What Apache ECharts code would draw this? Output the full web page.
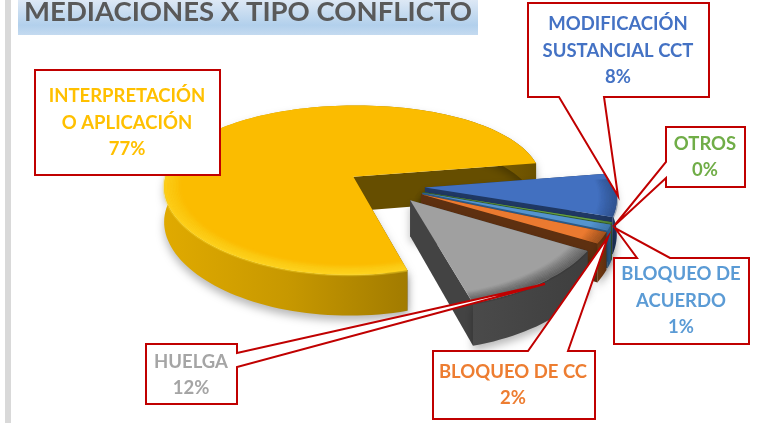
<!DOCTYPE html>
<html>
<head>
<meta charset="utf-8">
<style>html,body{margin:0;padding:0;background:#fff}#main{width:758px;height:423px}</style>
<script src="https://cdn.jsdelivr.net/npm/echarts@6/dist/echarts.min.js"></script>
</head>
<body>
<div id="main"></div>
<script>
const titleText = 'MEDIACIONES X TIPO CONFLICTO'
const categories = ['INTERPRETACIÓN\nO APLICACIÓN', 'MODIFICACIÓN\nSUSTANCIAL CCT', 'OTROS', 'BLOQUEO DE\nACUERDO', 'BLOQUEO DE CC', 'HUELGA']
const values = [77, 8, 0.3, 1, 2, 12] // otros prints 0% but has a visible sliver
const topColors = ['#fbbc00', '#4270c0', '#6aa544', '#5595d0', '#eb7a30', '#a0a0a0']
const textColors = ['#ffc000', '#4472c4', '#70ad47', '#5b9bd5', '#ed7d31', '#a5a5a5']

// disc geometry (pie is tilted, with a little perspective)
const cx = 386, cy = 186, R = 190, tilt = 0.45, persp = 0.16, depth = 35, explode = 39
const startAngle = 74

const total = values.reduce((a, b) => a + b, 0)
const deg = Math.PI / 180

function project(u, v, down) {
  let s = 1 / (1 - persp * v)
  return [cx + R * u * s * (1 - persp * 0.35 * v), cy + R * v * tilt * s + (down ? depth * s : 0)]
}

// wall colours per slice: stops run left to right along the outer wall
const wallStops = [
  ['#e0aa00', '#c79800', '#a07a00', '#6a5000'],
  ['#1f3864', '#1f3864'],
  ['#375f2a', '#375f2a'],
  ['#2c5c8a', '#2c5c8a'],
  ['#70380f', '#5e2f10'],
  ['#4a4a4a', '#3e3e3e']
]
const faceColors = ['#664e00', '#1f3864', '#375f2a', '#2c5c8a', '#5e3010', '#434343']
const bevelColors = ['#ffdf30', '#1f3864', '#375f2a', '#2c5c8a', '#5e3010', '#333333']

function renderSlice(params, api) {
  let i = params.dataIndex
  let before = values.slice(0, i).reduce((a, b) => a + b, 0)
  let a0 = startAngle + before / total * 360
  let a1 = a0 + api.value(0) / total * 360
  let mid = (a0 + a1) / 2 * deg
  let ox = explode / R * Math.cos(mid), oy = explode / R * Math.sin(mid)
  let arc = (r, down, frontOnly) => {
    let pts = []
    let n = Math.max(3, Math.ceil((a1 - a0) / 2))
    for (let k = 0; k <= n; k++) {
      let t = (a0 + (a1 - a0) * k / n) * deg
      if (frontOnly && Math.sin(t) < -0.12) continue
      pts.push(project(ox + r * Math.cos(t), oy + r * Math.sin(t), down))
    }
    return pts
  }
  let topArc = arc(1, false), botArc = arc(1, true)
  let apex = project(ox, oy, false), apexB = project(ox, oy, true)
  let children = []
  let shadow = {shadowColor: 'rgba(0,0,0,0.28)', shadowBlur: 9, shadowOffsetY: 5}
  // radial faces
  children.push({type: 'polygon', shape: {points: [apex, topArc[0], botArc[0], apexB]}, style: {fill: faceColors[i], ...shadow}})
  let last = topArc.length - 1
  children.push({type: 'polygon', shape: {points: [apex, topArc[last], botArc[last], apexB]}, style: {fill: faceColors[i]}})
  // outer wall
  let stops = wallStops[i].map((c, k) => ({offset: k / (wallStops[i].length - 1), color: c}))
  children.push({
    type: 'polygon',
    shape: {points: topArc.concat(botArc.slice().reverse())},
    style: {fill: new echarts.graphic.LinearGradient(0, 0, 1, 0, stops), ...shadow}
  })
  // top
  children.push({type: 'polygon', shape: {points: [apex].concat(topArc)}, style: {fill: topColors[i]}})
  // soft edge between top and wall, only on the side facing the viewer
  for (let k = 0; k < 12; k++) {
    children.push({
      type: 'polyline',
      shape: {points: arc(1 - k * 0.008, false, true)},
      style: {stroke: bevelColors[i], lineWidth: 3, fill: null, opacity: 0.32 * (1 - k / 12)}
    })
  }
  return {type: 'group', children: children}
}

// callouts: box corners, pointer base and tip
const callouts = [
  {box: [35, 70, 220, 175], side: null, textX: 127, textY: 123},
  {box: [528, 3, 709, 97], side: 'b', base: [559, 604], tip: [618, 196], textX: 618, textY: 51},
  {box: [666, 127, 745, 187], side: 'l', base: [162, 178], tip: [614, 226], textX: 705, textY: 157},
  {box: [614, 258, 749, 344], side: 't', base: [637, 670], tip: [615, 228], textX: 681, textY: 301},
  {box: [433, 351, 595, 419], side: 't', base: [528, 568], tip: [608, 237], textX: 513, textY: 385},
  {box: [146, 344, 237, 404], side: 'r', base: [353, 367], tip: [545, 284], textX: 191, textY: 375}
]

function calloutPoints(c) {
  let [l, t, r, b] = c.box
  if (c.side === 'b') return [[l, t], [r, t], [r, b], [c.base[1], b], c.tip, [c.base[0], b], [l, b]]
  if (c.side === 't') return [[l, t], [c.base[0], t], c.tip, [c.base[1], t], [r, t], [r, b], [l, b]]
  if (c.side === 'l') return [[l, t], [r, t], [r, b], [l, b], [l, c.base[1]], c.tip, [l, c.base[0]]]
  if (c.side === 'r') return [[l, t], [r, t], [r, c.base[0]], c.tip, [r, c.base[1]], [r, b], [l, b]]
  return [[l, t], [r, t], [r, b], [l, b]]
}

let graphics = [
  {type: 'rect', z: 1, shape: {x: 5, y: 0, width: 6, height: 423}, style: {fill: '#d9d9d9'}},
  {
    type: 'rect', z: 1, shape: {x: 18, y: 0, width: 460, height: 35},
    style: {fill: new echarts.graphic.LinearGradient(0, 0, 0, 1, [
      {offset: 0, color: '#dde8f5'}, {offset: 0.72, color: '#b2d0ec'}, {offset: 1, color: '#c4daf0'}
    ])}
  },
  {
    type: 'text', z: 1, x: 248, y: 12.5,
    style: {
      text: titleText, fill: '#595959', font: 'bold 27.5px Lato', align: 'center', verticalAlign: 'middle',
      shadowColor: 'rgba(0,0,0,0.3)', shadowBlur: 2, shadowOffsetY: 1
    }
  }
]
callouts.forEach((c, i) => {
  graphics.push({
    type: 'polygon', z: 10, shape: {points: calloutPoints(c)},
    style: {fill: '#fff', stroke: '#c00000', lineWidth: 2, lineJoin: 'miter'}
  })
  graphics.push({
    type: 'text', z: 11, x: c.textX, y: c.textY,
    style: {
      text: categories[i] + '\n' + Math.round(values[i]) + '%',
      fill: textColors[i], font: 'bold 18.5px Lato', lineHeight: 26.5, align: 'center', verticalAlign: 'middle'
    }
  })
})

let myEcharts = echarts.init(document.getElementById('main'), null, {renderer: 'canvas'})
myEcharts.setOption({
  animation: false,
  graphic: {elements: graphics},
  series: [{
    type: 'custom',
    coordinateSystem: 'none',
    renderItem: renderSlice,
    data: values.map(v => [v]),
    encode: {value: 0},
    silent: true
  }]
})
</script>
</body>
</html>
